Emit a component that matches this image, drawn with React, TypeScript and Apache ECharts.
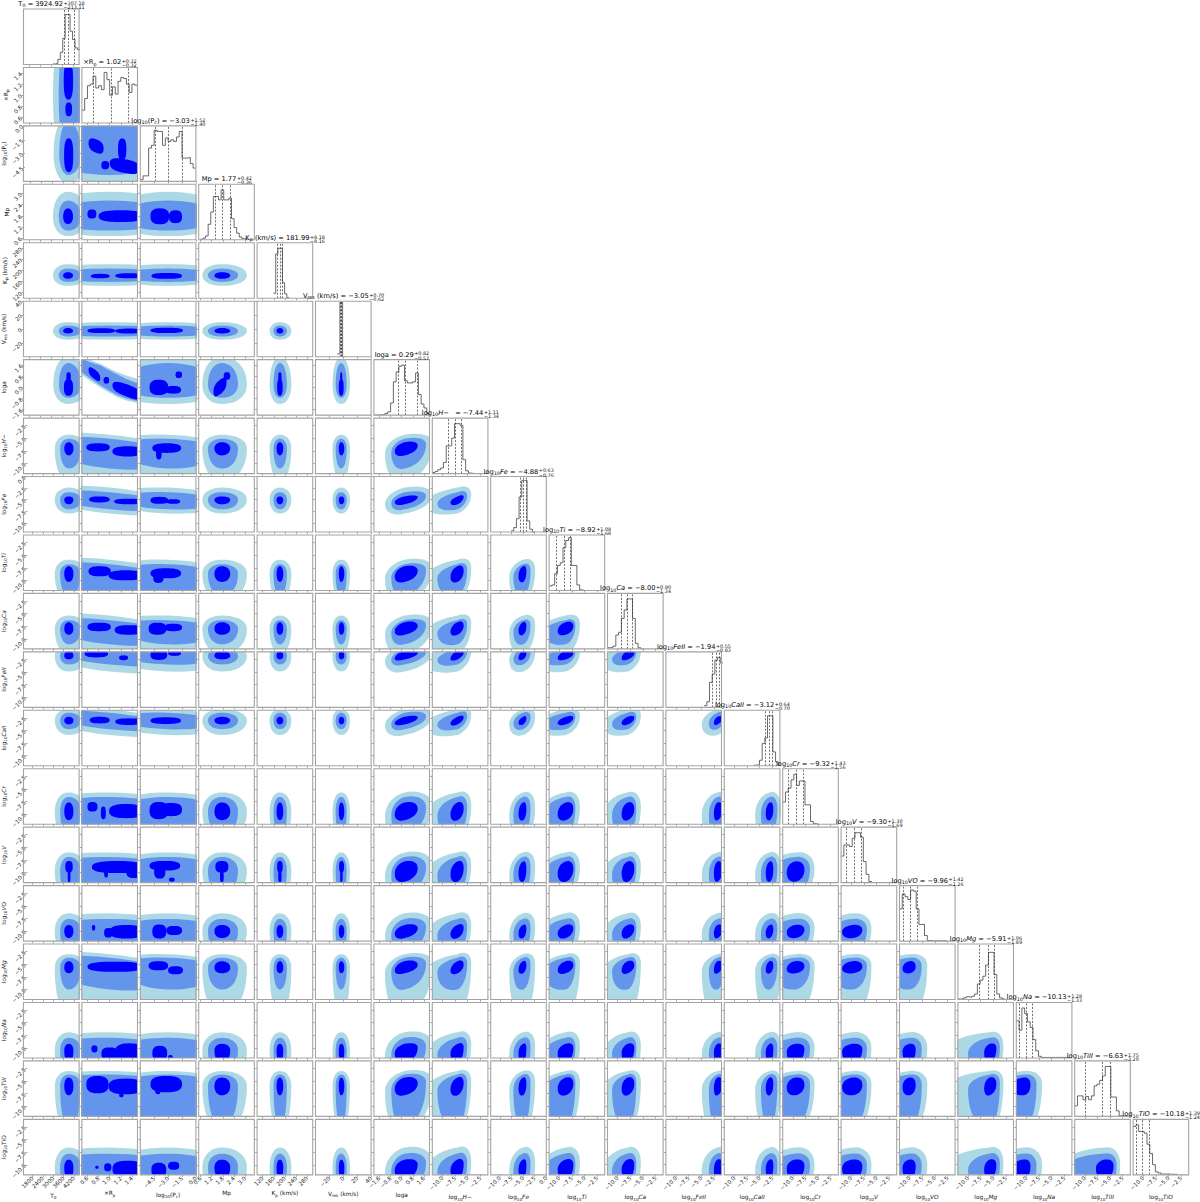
import React, { useEffect, useRef } from "react";
import * as echarts from "echarts";

type Seg = [string, "m" | "s" | "i"];

const paramLabels: Seg[][] = [
  [["T", "m"], ["0", "s"]],
  [["×R", "m"], ["p", "s"]],
  [["log", "m"], ["10", "s"], ["(P", "m"], ["c", "s"], [")", "m"]],
  [["Mp", "m"]],
  [["K", "m"], ["p", "s"], [" (km/s)", "m"]],
  [["V", "m"], ["res", "s"], [" (km/s)", "m"]],
  [["loga", "m"]],
  [["log", "m"], ["10", "s"], ["H−", "i"]],
  [["log", "m"], ["10", "s"], ["Fe", "i"]],
  [["log", "m"], ["10", "s"], ["Ti", "i"]],
  [["log", "m"], ["10", "s"], ["Ca", "i"]],
  [["log", "m"], ["10", "s"], ["FeII", "i"]],
  [["log", "m"], ["10", "s"], ["CaII", "i"]],
  [["log", "m"], ["10", "s"], ["Cr", "i"]],
  [["log", "m"], ["10", "s"], ["V", "i"]],
  [["log", "m"], ["10", "s"], ["VO", "i"]],
  [["log", "m"], ["10", "s"], ["Mg", "i"]],
  [["log", "m"], ["10", "s"], ["Na", "i"]],
  [["log", "m"], ["10", "s"], ["TiII", "i"]],
  [["log", "m"], ["10", "s"], ["TiO", "i"]],
];

const medianText = ["3924.92", "1.02", "−3.03", "1.77", "181.99", "−3.05", "0.29", "−7.44", "−4.88", "−8.92", "−8.00", "−1.94", "−3.12", "−9.32", "−9.30", "−9.96", "−5.91", "−10.13", "−6.63", "−10.18"];
const plusText = ["307.18", "0.32", "1.52", "0.42", "8.18", "0.70", "0.82", "1.11", "0.63", "1.08", "0.90", "0.55", "0.64", "1.43", "1.30", "1.42", "1.06", "1.28", "1.75", "1.39"];
const minusText = ["213.11", "0.32", "1.40", "0.36", "8.16", "0.62", "0.57", "1.34", "0.76", "1.68", "1.34", "0.83", "0.70", "1.56", "1.69", "1.26", "1.89", "1.33", "3.20", "1.24"];

const medians = [3924.92, 1.02, -3.03, 1.77, 181.99, -3.05, 0.29, -7.44, -4.88, -8.92, -8.0, -1.94, -3.12, -9.32, -9.3, -9.96, -5.91, -10.13, -6.63, -10.18];
const plus = [307.18, 0.32, 1.52, 0.42, 8.18, 0.7, 0.82, 1.11, 0.63, 1.08, 0.9, 0.55, 0.64, 1.43, 1.3, 1.42, 1.06, 1.28, 1.75, 1.39];
const minus = [213.11, 0.32, 1.4, 0.36, 8.16, 0.62, 0.57, 1.34, 0.76, 1.68, 1.34, 0.83, 0.7, 1.56, 1.69, 1.26, 1.89, 1.33, 3.2, 1.24];

const axisMin = [1500, 0.5, -6, 0.5, 100, -40, -2, -12, -12, -12, -12, -12, -12, -12, -12, -12, -12, -12, -12, -12];
const axisMax = [4500, 1.5, 0, 3.5, 300, 40, 2, -1, 0, -1, -1, -1, -1, -1, -1, -1, -1, -1, -1, -1];

const abTicks = [-10, -7.5, -5, -2.5];
const abLabels = ["−10.0", "−7.5", "−5.0", "−2.5"];
const tickValues: number[][] = [
  [1800, 2400, 3000, 3600, 4200],
  [0.6, 0.8, 1.0, 1.2, 1.4],
  [-4.5, -3, -1.5, 0],
  [0.6, 1.2, 1.8, 2.4, 3.0],
  [120, 160, 200, 240, 280],
  [-20, 0, 20, 40],
  [-1.6, -0.8, 0, 0.8, 1.6],
  abTicks,
  [-10, -7.5, -5, -2.5, 0],
  ...Array.from({ length: 11 }, () => abTicks),
];
const tickLabels: string[][] = [
  ["1800", "2400", "3000", "3600", "4200"],
  ["0.6", "0.8", "1.0", "1.2", "1.4"],
  ["−4.5", "−3.0", "−1.5", "0.0"],
  ["0.6", "1.2", "1.8", "2.4", "3.0"],
  ["120", "160", "200", "240", "280"],
  ["−20", "0", "20", "40"],
  ["−1.6", "−0.8", "0.0", "0.8", "1.6"],
  abLabels,
  ["−10.0", "−7.5", "−5.0", "−2.5", "0.0"],
  ...Array.from({ length: 11 }, () => abLabels),
];

// histograms: first bin edge, bin width, bar heights (fraction of panel height)
const histStart = [3090, 0.5, -6, 0.59, 159, -8.7, -2, -12, -7.6, -12, -12, -4.43, -6.1, -12, -12, -12, -12, -12, -12, -12];
const histWidth = [132, 0.05, 0.3, 0.14, 8, 3.85, 0.2, 0.55, 0.575, 0.55, 0.55, 0.53, 0.53, 0.55, 0.55, 0.55, 0.55, 0.55, 0.55, 0.55];
const histT0 = [0.01, 0.02, 0.09, 0.22, 0.47, 0.9, 0.9, 0.6, 0.45, 0.3, 0.27];
const histXRp = [0.23, 0.44, 0.67, 0.7, 0.84, 0.63, 0.67, 0.6, 0.91, 0.78, 0.5, 0.65, 0.52, 0.75, 0.82, 0.8, 0.7, 0.55, 0.7, 0.68];
const histPc = [0.03, 0.1, 0.1, 0.6, 0.65, 0.92, 0.9, 0.9, 0.65, 0.78, 0.72, 0.75, 0.72, 0.8, 0.9, 0.42, 0.42, 0.43, 0.32, 0.24];
const histMp = [0.01, 0.03, 0.07, 0.28, 0.5, 0.78, 0.78, 0.72, 0.9, 0.72, 0.72, 0.75, 0.38, 0.22, 0.12, 0.05, 0.02, 0.01];
const histKp = [0.09, 0.8, 0.9, 0.9, 0.28, 0.08, 0.01];
const histVres = [0.05, 0.98, 0.0];
const histLoga = [0, 0, 0.005, 0.01, 0.03, 0.06, 0.22, 0.6, 0.78, 0.88, 0.9, 0.62, 0.58, 0.58, 0.6, 0.76, 0.37, 0.2, 0.13, 0.03];
const histH = [0.02, 0.04, 0.07, 0.1, 0.2, 0.5, 0.5, 0.64, 0.9, 0.9, 0.87, 0.25, 0.05, 0.01, 0];
const histFe = [0.02, 0.08, 0.24, 0.63, 0.93, 0.93, 0.2, 0.05, 0];
const histTi = [0.08, 0.1, 0.3, 0.45, 0.5, 0.77, 0.9, 0.95, 0.45, 0.45, 0.1, 0.01, 0];
const histCa = [0.02, 0.03, 0.05, 0.25, 0.3, 0.55, 0.7, 0.9, 0.9, 0.55, 0.1, 0.02, 0];
const histFeII = [0.03, 0.1, 0.45, 0.6, 0.85, 0.9, 0.8];
const histCaII = [0.01, 0.02, 0.1, 0.4, 0.5, 0.9, 0.9, 0.25, 0.07, 0.01, 0];
const histCr = [0.4, 0.58, 0.65, 0.8, 0.9, 0.7, 0.78, 0.78, 0.35, 0.35, 0.05, 0.01, 0];
const histV = [0.48, 0.68, 0.68, 0.65, 0.8, 0.9, 0.9, 0.82, 0.38, 0.15, 0.02, 0];
const histVO = [0.58, 0.85, 0.8, 0.75, 0.92, 0.9, 0.58, 0.3, 0.3, 0.1, 0.01, 0.005, 0.005, 0.005, 0.005, 0.005, 0.005];
const histMg = [0.01, 0.01, 0.03, 0.05, 0.04, 0.06, 0.1, 0.28, 0.35, 0.42, 0.62, 0.85, 0.85, 0.45, 0.1, 0.03, 0.01];
const histNa = [0.67, 0.5, 0.9, 0.8, 0.65, 0.55, 0.33, 0.13, 0.03, 0.01, 0.01, 0.01, 0.01, 0.01, 0.01, 0.01, 0.01, 0.01, 0.01];
const histTiII = [0.19, 0.37, 0.37, 0.3, 0.36, 0.3, 0.37, 0.55, 0.58, 0.65, 0.73, 0.9, 0.9, 0.35, 0.35, 0.1, 0.01, 0.01];
const histTiO = [0.87, 0.9, 0.78, 0.78, 0.75, 0.55, 0.38, 0.18, 0.05, 0.03, 0.01, 0.01, 0.01, 0.005, 0.005, 0.005];
const hists = [histT0, histXRp, histPc, histMp, histKp, histVres, histLoga, histH, histFe, histTi, histCa, histFeII, histCaII, histCr, histV, histVO, histMg, histNa, histTiII, histTiO];

// 2-D density extents of each parameter at the three contour levels
const peak = [3900, 1, -3, 1.75, 182, -3, 0.2, -7, -5, -8.7, -8, -1.8, -3, -9.5, -9.7, -10, -5.7, -10.5, -6, -10.5];
const lightLo = [3090, -0.3, -9, 0.7, 145, -15.5, -1.2, -13.5, -8, -14, -13, -4.9, -5.9, -15, -15, -15, -15, -16, -15, -16];
const lightHi = [4900, 2.3, 3, 3.1, 223, 9.6, 2.2, -4.3, -2.4, -5.9, -5.4, 0.2, -0.8, -5.7, -6, -6.5, -3, -6.9, -3, -6.6];
const midLo = [3400, -0.1, -8, 1, 159, -11, -0.75, -11, -7.1, -13, -11.1, -3.5, -4.75, -14, -14, -14, -10, -15, -14, -15];
const midHi = [4600, 2.1, 2, 2.62, 207, 4.8, 1.75, -5.1, -3.4, -6.8, -6.3, -0.4, -1.5, -6.6, -6.9, -7.6, -3.7, -8, -3.7, -7.8];
const blueLo = [3640, 0.6, -5, 1.35, 170, -6.5, -0.5, -8.4, -6, -10.3, -9.2, -2.5, -3.8, -11.2, -11.8, -11.4, -6.8, -13, -7.8, -13];
const blueHi = [4170, 1.5, -1.4, 2.2, 194, 1.4, 1.15, -5.8, -4.3, -7.2, -6.7, -0.8, -2.3, -7.7, -7.8, -8.8, -4.4, -9.2, -4.3, -9];
const tiltByColumn = [0, -1.5, -0.4, 0, 0, 0, 1.0, 1.1, 0.8, 0.9, 0.9, 0.8, 0.7, 0.5, 0.4, 0.4, 0.8, 0.4, 0.5];
// rows where the ×Rp and log10(Pc) bands run flat rather than sloping
const flatBandRows = [13, 14, 15, 17, 18, 19];
// log10(Pc) seen as the y parameter of its row: light low/high, mid low/high
const pcRowExtent = [-6.2, 1.0, -5.3, 0.4];

// lobes of the innermost contour: [xLo, xHi, yLo, yHi, tilt?]
type Lobe = number[];
const xRpLobes: Record<number, Lobe[]> = {
  2: [[0.62, 0.89, -2.9, -1.45, -0.3], [1.15, 1.3, -3.7, -1.35], [0.85, 0.99, -4.7, -3.8], [1.0, 1.55, -5.1, -3.6, -0.3]],
  3: [[0.6, 0.76, 1.65, 2.14], [0.8, 1.6, 1.46, 2.1]],
  4: [[0.66, 1.0, 172, 188], [1.1, 1.6, 172, 190]],
  5: [[0.6, 1.1, -6, 1], [1.1, 1.6, -6.5, 0.5]],
  6: [[0.62, 0.83, 0.6, 1.3, -0.3], [0.89, 0.99, 0.27, 0.75], [1.05, 1.6, -0.7, 0.2, -0.4]],
  7: [[0.58, 1.0, -7.6, -6], [1.05, 1.6, -8.6, -6.6]],
  8: [[0.63, 1.0, -5.6, -4.3], [1.08, 1.6, -6, -4.8]],
  9: [[0.62, 1.02, -9.2, -7.2], [0.98, 1.6, -10, -8]],
  10: [[0.6, 1.02, -8.5, -6.8], [1.09, 1.6, -9.2, -7.3]],
  11: [[0.55, 0.97, -2.1, -0.6], [1.17, 1.33, -2.65, -1.7]],
  12: [[0.64, 1.0, -3.6, -2.3], [1.1, 1.6, -3.9, -2.6]],
  13: [[0.6, 0.78, -9.5, -7.6], [0.84, 0.93, -11, -8.5], [0.99, 1.6, -10.8, -8]],
  14: [[0.68, 1.6, -10.1, -7.7], [0.9, 0.97, -11, -9], [1.3, 1.6, -11.1, -8.8]],
  15: [[0.68, 0.74, -9.9, -8.8], [0.9, 1.05, -11.3, -9.4], [1.0, 1.6, -11.5, -8.8]],
  16: [[0.6, 1.6, -6.5, -4.5]],
  17: [[0.67, 0.78, -10.9, -9.5], [0.85, 1.15, -12.4, -9.9], [1.1, 1.6, -12.5, -9.1]],
  18: [[0.58, 0.98, -7.4, -4], [0.98, 1.6, -7.6, -4.5], [1.17, 1.25, -8.2, -7.4]],
  19: [[0.74, 0.8, -10.8, -10.2], [0.9, 1.03, -11.3, -9.7], [1.05, 1.6, -12.5, -9.2]],
};
const pcLobes: Record<number, Lobe[]> = {
  3: [[-4.9, -2.9, 1.34, 2.2], [-2.9, -1.5, 1.4, 2.1]],
  4: [[-4.8, -1.5, 170, 191]],
  5: [[-4.9, -1.4, -6, 1.7]],
  6: [[-5.0, -3.0, -0.55, 0.55], [-3.3, -1.6, -0.45, 0.1], [-2.2, -1.5, 0.67, 1.15]],
  7: [[-4.7, -1.6, -7.9, -6], [-4.3, -3.7, -9.2, -7]],
  8: [[-4.9, -3, -5.9, -4.4], [-3.2, -1.7, -5.9, -4.9]],
  9: [[-4.9, -1.6, -9.6, -7.6], [-4.6, -3.5, -10.5, -8.5]],
  10: [[-5.1, -3.2, -9.2, -6.8], [-3.4, -1.5, -8.5, -7]],
  11: [[-4.9, -3.1, -2.6, -0.6], [-3.0, -1.6, -1.8, -0.6]],
  12: [[-4.9, -1.6, -3.7, -2.4]],
  13: [[-5, -3.0, -11, -7.6], [-3.9, -1.5, -10.4, -7.8]],
  14: [[-5.0, -1.7, -9.6, -7.7], [-4.5, -3.3, -11.2, -8.5], [-2.9, -2.3, -11.8, -11]],
  15: [[-4.7, -3.2, -11.5, -8.7], [-3.2, -1.5, -10.8, -9]],
  16: [[-5.1, -3, -6.2, -4.4], [-3, -1.4, -7, -5.4]],
  17: [[-4.7, -3.1, -12.5, -9.6], [-3.0, -2.5, -12.5, -11.4]],
  18: [[-4.9, -1.5, -7.2, -4.0], [-4.4, -3.8, -7.6, -6]],
  19: [[-4.8, -3.2, -12.5, -9.6], [-3.0, -1.8, -11, -9.4]],
};
const extraLobes: Record<string, Lobe[]> = {
  "0:1": [[3670, 4175, 0.92, 1.6], [3760, 4120, 0.62, 0.87]],
  "0:2": [[3670, 4175, -5, -1.35]],
  "0:6": [[3670, 4170, -0.6, 0.6], [3800, 4050, 0.4, 1.1]],
  "3:6": [[1.3, 2.0, -0.5, 0.55, 0.35], [1.85, 2.2, 0.55, 1.1]],
  "4:6": [[172, 192, -0.6, 0.6], [176, 188, 0.4, 1.1]],
  "5:6": [[-6.5, 0.5, -0.6, 0.6], [-4.5, -1.5, 0.3, 1.1]],
  "0:14": [[3700, 4130, -10, -7.7], [3840, 4000, -12, -9.5]],
  "3:14": [[1.4, 2.1, -10, -7.7], [1.65, 1.85, -12, -9.5]],
  "4:14": [[172, 192, -10, -7.7], [176, 188, -12, -9.5]],
  "5:14": [[-6, 1, -10, -7.7], [-4.5, -1, -12, -9.5]],
};
// outlines of the strongly correlated ×Rp–loga panel: x, y pairs
const xRpLogaLight = [[0.4, 2.4], [0.5, 2.2], [0.66, 1.95], [0.83, 1.71], [0.98, 1.4], [1.13, 1.11], [1.3, 0.85], [1.5, 0.63], [1.6, 0.5], [1.6, -1.3], [1.5, -1.13], [1.3, -0.95], [1.13, -0.7], [0.98, -0.35], [0.83, 0], [0.66, 0.45], [0.5, 0.9], [0.4, 1.1]];
const xRpLogaMid = [[0.4, 2.2], [0.5, 2.05], [0.66, 1.8], [0.83, 1.6], [0.98, 1.25], [1.13, 0.95], [1.3, 0.6], [1.5, 0.3], [1.6, 0.2], [1.6, -1.2], [1.5, -1.0], [1.3, -0.8], [1.13, -0.55], [0.98, -0.2], [0.83, 0.15], [0.66, 0.6], [0.5, 1.1], [0.4, 1.3]];

const levelColors = ["#add8e6", "#6495ed", "#0000ff"];
const FONT = "DejaVu Sans";
const N = paramLabels.length;
const PANEL_L = 23.5, PANEL_T = 9, PITCH_X = 58.4, PITCH_Y = 58.44, PW = 55.6, PH = 55.5;
const TITLE_SIZE = 6.7, EXP_SIZE = 4.9, AXIS_SIZE = 5.8, TICK_SIZE = 5.6;

function oval(cx: number, L: number, R: number, cy: number, B: number, T: number, tilt: number, n: number) {
  const pts: number[][] = [];
  const K = 44;
  for (let k = 0; k < K; k++) {
    const th = (k / K) * Math.PI * 2;
    const c = Math.cos(th), s = Math.sin(th);
    const u = Math.sign(c) * Math.pow(Math.abs(c), 2 / n);
    const v = Math.sign(s) * Math.pow(Math.abs(s), 2 / n);
    pts.push([cx + (u < 0 ? L : R) * u, cy + (v < 0 ? B : T) * v + tilt * u]);
  }
  return pts;
}

function panelShapes(x: number, y: number) {
  let tilt = y >= 7 ? tiltByColumn[x] : 0;
  if ((x === 1 || x === 2) && flatBandRows.includes(y)) tilt *= 0.1;
  const levelShape = (lo: number[], hi: number[], f: number, yLo: number, yHi: number) =>
    oval(peak[x], peak[x] - lo[x], hi[x] - peak[x], peak[y], peak[y] - yLo, yHi - peak[y], tilt * f, 2.15);
  const shapes: { color: string; pts: number[][] }[] = [];
  const lY = y === 2 ? [pcRowExtent[0], pcRowExtent[1]] : [lightLo[y], lightHi[y]];
  const mY = y === 2 ? [pcRowExtent[2], pcRowExtent[3]] : [midLo[y], midHi[y]];
  if (x === 1 && y === 6) {
    shapes.push({ color: levelColors[0], pts: xRpLogaLight });
    shapes.push({ color: levelColors[1], pts: xRpLogaMid });
  } else {
    shapes.push({ color: levelColors[0], pts: levelShape(lightLo, lightHi, 1, lY[0], lY[1]) });
    shapes.push({ color: levelColors[1], pts: levelShape(midLo, midHi, 0.8, mY[0], mY[1]) });
  }
  const lobes = x === 1 ? xRpLobes[y] : x === 2 ? pcLobes[y] : extraLobes[x + ":" + y];
  if (lobes) {
    for (const l of lobes) {
      const cx = (l[0] + l[1]) / 2, cy = (l[2] + l[3]) / 2;
      const hw = (l[1] - l[0]) / 2, hh = (l[3] - l[2]) / 2;
      shapes.push({ color: levelColors[2], pts: oval(cx, hw, hw, cy, hh, hh, l[4] || 0, 2.6) });
    }
  } else {
    shapes.push({ color: levelColors[2], pts: levelShape(blueLo, blueHi, 0.55, blueLo[y], blueHi[y]) });
  }
  return shapes;
}

const rich = (size: number) => ({
  m: { fontSize: size, fontFamily: FONT, color: "#111" },
  s: { fontSize: size * 0.72, fontFamily: FONT, color: "#111", verticalAlign: "bottom" as const, lineHeight: size * 1.25 },
  i: { fontSize: size, fontFamily: FONT, fontStyle: "italic" as const, color: "#111" },
});
const richStr = (segs: Seg[]) => segs.map(([t, k]) => `{${k}|${t}}`).join("");

function buildOption() {
  const grid: any[] = [], xAxis: any[] = [], yAxis: any[] = [], series: any[] = [], graphic: any[] = [];
  const ctx = document.createElement("canvas").getContext("2d")!;
  const measure = (segs: Seg[], size: number) =>
    segs.reduce((w, [t, k]) => {
      ctx.font = `${k === "i" ? "italic " : ""}${k === "s" ? size * 0.72 : size}px "${FONT}"`;
      return w + ctx.measureText(t).width;
    }, 0);
  const axisFor = (p: number, idx: number, showLabel: boolean, isX: boolean, nameGap: number) => {
    const names = showLabel ? { name: richStr(paramLabels[p]), nameLocation: "middle", nameGap, nameRotate: isX ? 0 : 90, nameTextStyle: { rich: rich(AXIS_SIZE), fontSize: AXIS_SIZE, fontFamily: FONT } } : {};
    return {
      gridIndex: idx,
      type: "value",
      min: axisMin[p],
      max: axisMax[p],
      axisLine: { show: false, onZero: false },
      splitLine: { show: false },
      axisTick: { show: true, length: 2, lineStyle: { color: "#666", width: 0.6 }, customValues: tickValues[p] },
      axisLabel: {
        show: showLabel,
        customValues: tickValues[p],
        rotate: 45,
        fontSize: TICK_SIZE,
        margin: 2.5,
        color: "#222",
        fontFamily: FONT,
        hideOverlap: false,
        formatter: (v: number) => {
          const i = tickValues[p].findIndex((t) => Math.abs(t - v) < 1e-6);
          return i >= 0 ? tickLabels[p][i] : "";
        },
      },
      ...names,
    };
  };
  let g = 0;
  for (let y = 0; y < N; y++) {
    for (let x = 0; x <= y; x++) {
      const left = PANEL_L + x * PITCH_X, top = PANEL_T + y * PITCH_Y;
      grid.push({ left, top, width: PW, height: PH, show: false });
      xAxis.push(axisFor(x, g, y === N - 1, true, x === N - 1 ? 19 : 15));
      if (x === y) {
        yAxis.push({ gridIndex: g, type: "value", min: 0, max: 1, axisLine: { show: false, onZero: false }, splitLine: { show: false }, axisTick: { show: false }, axisLabel: { show: false } });
        const pts: number[][] = hists[x].map((h, i) => [histStart[x] + i * histWidth[x], h]);
        pts.push([histStart[x] + hists[x].length * histWidth[x], hists[x][hists[x].length - 1]]);
        series.push({
          type: "line",
          xAxisIndex: g,
          yAxisIndex: g,
          data: pts,
          step: "end",
          showSymbol: false,
          symbol: "none",
          clip: true,
          silent: true,
          lineStyle: { color: "#444", width: 0.8 },
          markLine: {
            silent: true,
            symbol: "none",
            animation: false,
            label: { show: false },
            lineStyle: { color: "#333", type: [2, 1.5], width: 0.7 },
            data: [medians[x] - minus[x], medians[x], medians[x] + plus[x]].map((q) => ({ xAxis: q })),
          },
        });
        const cxT = left + PW / 2;
        const segs: Seg[] = [...paramLabels[x], [(x === 7 ? "  " : "") + " = " + medianText[x], "m"]];
        const mainW = measure(segs, TITLE_SIZE);
        ctx.font = `${EXP_SIZE}px "${FONT}"`;
        const supW = ctx.measureText("−" + minusText[x]).width;
        const anchor = cxT + (mainW - supW) / 2;
        graphic.push({ type: "text", z: 200, style: { text: richStr(segs), x: anchor, y: top - 5, align: "right", verticalAlign: "middle", rich: rich(TITLE_SIZE), fontSize: TITLE_SIZE, fontFamily: FONT } });
        graphic.push({ type: "text", z: 200, style: { text: "+" + plusText[x], x: anchor + 0.5, y: top - 6.2, align: "left", verticalAlign: "middle", fontSize: EXP_SIZE, fontFamily: FONT, fill: "#111" } });
        graphic.push({ type: "text", z: 200, style: { text: "−" + minusText[x], x: anchor + 0.5, y: top - 2, align: "left", verticalAlign: "middle", fontSize: EXP_SIZE, fontFamily: FONT, fill: "#111" } });
      } else {
        yAxis.push(axisFor(y, g, x === 0, false, 14));
        const shapes = panelShapes(x, y);
        series.push({
          type: "custom",
          xAxisIndex: g,
          yAxisIndex: g,
          coordinateSystem: "cartesian2d",
          clip: true,
          silent: true,
          data: [[peak[x], peak[y]]],
          encode: { x: 0, y: 1 },
          renderItem: (_p: any, api: any) => ({
            type: "group",
            children: shapes.map((s) => ({
              type: "polygon",
              shape: { points: s.pts.map((q) => api.coord(q)) },
              style: { fill: s.color, stroke: "none" },
            })),
          }),
        });
      }
      graphic.push({ type: "rect", z: 100, silent: true, shape: { x: left, y: top, width: PW, height: PH }, style: { fill: "none", stroke: "#a4a4a4", lineWidth: 1.1 } });
      g++;
    }
  }
  return { animation: false, backgroundColor: "#ffffff", grid, xAxis, yAxis, series, graphic };
}

export default function App() {
  const ref = useRef<HTMLDivElement>(null);
  useEffect(() => {
    document.body.style.margin = "0";
    const chart = echarts.init(ref.current!, undefined, { renderer: "svg" });
    chart.setOption(buildOption() as any);
    return () => chart.dispose();
  }, []);
  return <div ref={ref} style={{ position: "absolute", left: 0, top: 0, width: 1200, height: 1202 }} />;
}
